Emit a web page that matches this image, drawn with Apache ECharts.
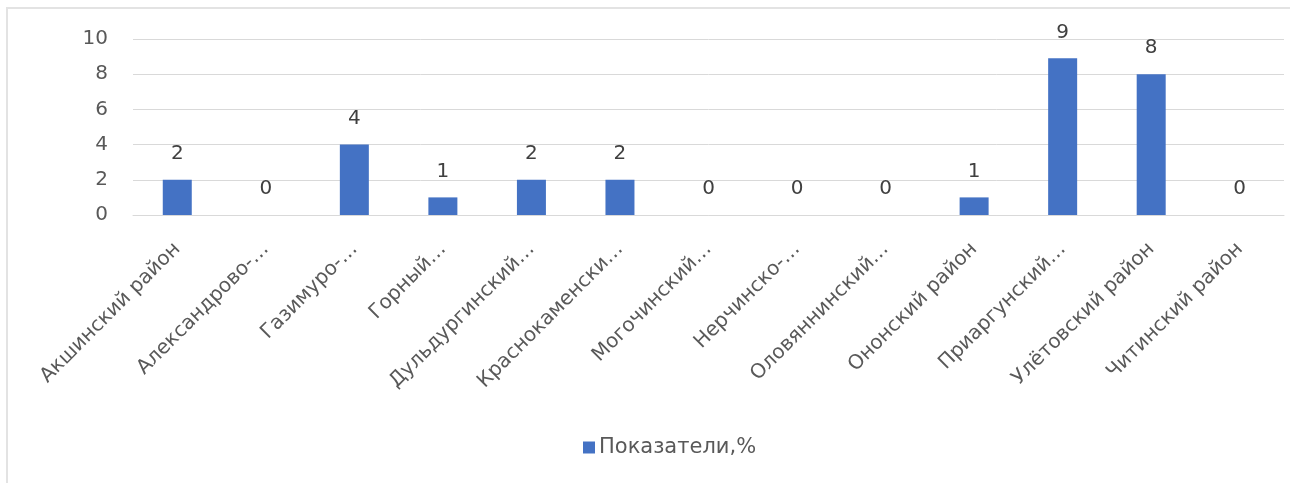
<!DOCTYPE html>
<html><head><meta charset="utf-8">
<script src="https://cdn.jsdelivr.net/npm/echarts@6/dist/echarts.min.js"></script>
<style>
html,body{margin:0;padding:0;background:#fff;overflow:hidden;}
#frame{position:absolute;left:6px;top:7px;width:1300px;height:500px;border-left:2px solid #e3e3e3;border-top:2px solid #e3e3e3;box-sizing:border-box;}
#c{position:absolute;left:0;top:0;width:1290px;height:483px;}
</style></head>
<body>
<div id="frame"></div>
<div id="c"></div>
<script>
const categories = ["Акшинский район","Александрово-…","Газимуро-…","Горный…","Дульдургинский…","Краснокаменски…","Могочинский…","Нерчинско-…","Оловяннинский…","Ононский район","Приаргунский…","Улётовский район","Читинский район"];
const values = [2, 0, 4, 1, 2, 2, 0, 0, 0, 1, 8.9, 8, 0];
const yTicks = [0, 2, 4, 6, 8, 10];
const seriesName = "Показатели,%";

const chart = echarts.init(document.getElementById('c'));
const font = "'DejaVu Sans', sans-serif";
chart.setOption({
  animation: false,
  textStyle: {fontFamily: font},
  grid: {left: 133, right: 6, top: 39, bottom: 268, containLabel: false},
  legend: {
    data: [seriesName], top: 432, left: 578,
    itemWidth: 12, itemHeight: 12, icon: 'rect', itemGap: 6,
    textStyle: {color: '#595959', fontSize: 21, fontFamily: font, padding: [0,0,0,-1]}
  },
  xAxis: {
    type: 'category', data: categories,
    axisLine: {lineStyle: {color: '#d9d9d9', width: 1}},
    axisTick: {show: false},
    axisLabel: {rotate: 45, interval: 0, color: '#595959', fontSize: 20, fontFamily: font, margin: 31}
  },
  yAxis: {
    type: 'value', min: yTicks[0], max: yTicks[yTicks.length-1], interval: 2,
    axisLine: {show: false}, axisTick: {show: false},
    splitLine: {lineStyle: {color: '#d9d9d9', width: 1}},
    axisLabel: {color: '#595959', fontSize: 20, fontFamily: font, margin: 25}
  },
  series: [{
    name: seriesName, type: 'bar', data: values, barWidth: 29,
    itemStyle: {color: '#4472c4'},
    label: {show: true, position: 'top', distance: 16, color: '#404040', fontSize: 20, fontFamily: font,
      formatter: p => Math.round(p.value)}
  }]
});
</script>
</body></html>
